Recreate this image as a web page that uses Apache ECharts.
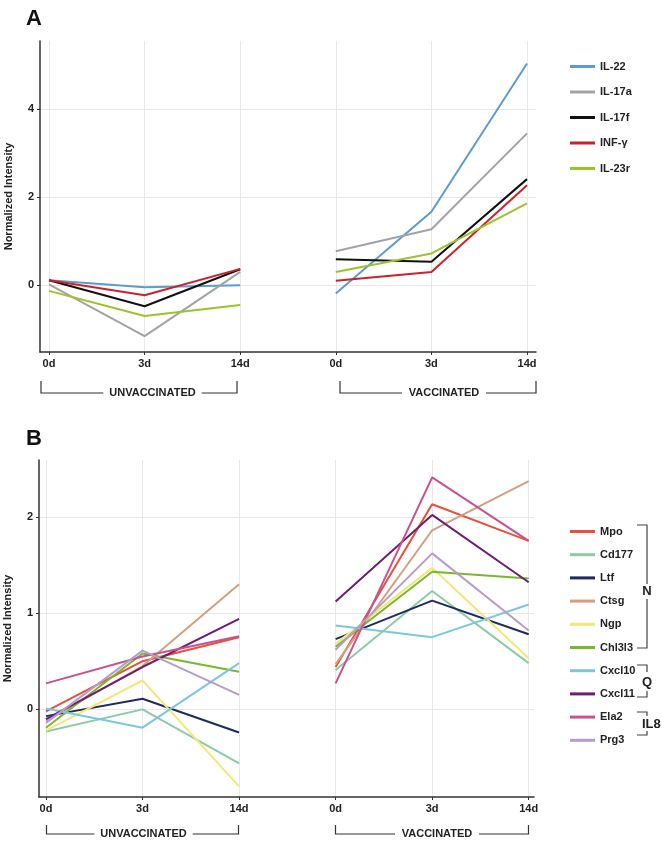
<!DOCTYPE html>
<html><head><meta charset="utf-8">
<script src="https://cdn.jsdelivr.net/npm/echarts@6/dist/echarts.min.js"></script>
<style>html,body{margin:0;padding:0;background:#fff}#c{width:662px;height:841px}</style>
</head><body><div id="c"></div>
<script>
// ---- data ----
const timepoints = ['0d','3d','14d','0d','3d','14d'];
const groupLabels = ['UNVACCINATED','VACCINATED'];
const yTicksA = [0,2,4];
const yTicksB = [0,1,2];

// Panel A (unvaccinated 0d,3d,14d, vaccinated 0d,3d,14d)
const namesA = ['IL-22','IL-17a','IL-17f','INF-\u03b3','IL-23r'];
const il22  = [0.11,-0.05,0.00,-0.19,1.67,5.04];
const il17a = [0.02,-1.16,0.30,0.77,1.27,3.45];
const il17f = [0.11,-0.48,0.36,0.59,0.53,2.41];
const infg  = [0.11,-0.23,0.37,0.10,0.30,2.27];
const il23r = [-0.13,-0.70,-0.45,0.30,0.72,1.86];

// Panel B
const namesB = ['Mpo','Cd177','Ltf','Ctsg','Ngp','Chl3l3','Cxcl10','Cxcl11','Ela2','Prg3'];
const mpo    = [-0.02,0.50,0.75,0.44,2.13,1.75];
const cd177  = [-0.23,0.00,-0.56,0.41,1.23,0.48];
const ltf    = [-0.07,0.11,-0.24,0.73,1.13,0.78];
const ctsg   = [-0.12,0.45,1.30,0.47,1.86,2.37];
const ngp    = [-0.22,0.30,-0.80,0.68,1.47,0.53];
const chl3l3 = [-0.19,0.58,0.39,0.65,1.43,1.36];
const cxcl10 = [0.01,-0.19,0.48,0.87,0.75,1.09];
const cxcl11 = [-0.10,0.44,0.94,1.12,2.02,1.32];
const ela2   = [0.27,0.55,0.76,0.27,2.41,1.75];
const prg3   = [-0.14,0.61,0.15,0.62,1.62,0.82];

const valuesA = [il22, il17a, il17f, infg, il23r];
const valuesB = [mpo, cd177, ltf, ctsg, ngp, chl3l3, cxcl10, cxcl11, ela2, prg3];
const colorsA = ['#5b9bd0','#a3a3a3','#111111','#c8232c','#9cc32a'];
const colorsB = ['#e8503a','#8dcba6','#1f2a5e','#d3a07e','#f2e87a','#79b72d','#7cc7de','#6b1f6f','#c9528c','#b89ccb'];

const FONT = '"Liberation Sans", Arial, Helvetica, sans-serif';
const chart = echarts.init(document.getElementById('c'));

function mkSeries(names, vals, colors, idx) {
  const out = [];
  names.forEach((n, i) => {
    [0, 3].forEach(start => {
      out.push({
        name: n, type: 'line', xAxisIndex: idx, yAxisIndex: idx,
        symbol: 'none', silent: true, animation: false,
        lineStyle: { color: colors[i], width: 2 },
        itemStyle: { color: colors[i] },
        data: [0,1,2].map(k => [start + k, vals[i][start + k]])
      });
    });
  });
  return out;
}

const axisLineStyle = { color: '#333', width: 1.5 };
function xAxis(idx, min, max) {
  return {
    type: 'value', gridIndex: idx, min: min, max: max,
    axisLine: { lineStyle: axisLineStyle, onZero: false },
    axisTick: { show: true, length: 3, customValues: [0,1,2,3,4,5], lineStyle: { color: '#333' } },
    axisLabel: { customValues: [0,1,2,3,4,5], formatter: v => timepoints[Math.round(v)],
      fontFamily: FONT, fontWeight: 'bold', fontSize: 11, color: '#222', margin: 6 },
    splitLine: { show: true, lineStyle: { color: '#e8e8e8', width: 1 } }
  };
}
function yAxis(idx, min, max, ticks) {
  return {
    type: 'value', gridIndex: idx, min: min, max: max,
    name: 'Normalized Intensity', nameLocation: 'middle', nameGap: 26, nameRotate: 90,
    nameMoveOverlap: false,
    nameTextStyle: { fontFamily: FONT, fontWeight: 'bold', fontSize: 11, color: '#222' },
    axisLine: { show: true, onZero: false, lineStyle: axisLineStyle },
    axisTick: { show: true, length: 3, customValues: ticks, lineStyle: { color: '#333' } },
    axisLabel: { customValues: ticks, fontFamily: FONT, fontWeight: 'bold', fontSize: 11, color: '#222', margin: 6 },
    splitLine: { show: true, lineStyle: { color: '#e8e8e8', width: 1 } }
  };
}

const legendText = { fontFamily: FONT, fontWeight: 'bold', fontSize: 11, color: '#222', lineHeight: 14 };

function bracketBottom(x1, x2, yTop, yLine, tx, label) {
  const els = [];
  const tw = label.length * 7.2;
  els.push({ type: 'polyline', shape: { points: [[x1, yTop], [x1, yLine], [tx - tw/2 - 6, yLine]] },
    style: { stroke: '#333', lineWidth: 1.2, fill: null } });
  els.push({ type: 'polyline', shape: { points: [[tx + tw/2 + 6, yLine], [x2, yLine], [x2, yTop]] },
    style: { stroke: '#333', lineWidth: 1.2, fill: null } });
  els.push({ type: 'text', x: tx, y: yLine, style: { text: label, fontFamily: FONT, fontWeight: 'bold',
    fontSize: 11, fill: '#222', align: 'center', verticalAlign: 'middle' } });
  return els;
}

const rightBr = [];
function seg(pts) { rightBr.push({ type: 'polyline', shape: { points: pts }, style: { stroke: '#444', lineWidth: 1.2, fill: null } }); }
function lbl(t, x, y, align) { rightBr.push({ type: 'text', x: x, y: y, style: { text: t, fontFamily: FONT, fontWeight: 'bold', fontSize: 13, fill: '#222', align: align || 'center', verticalAlign: 'middle' } }); }
// N
seg([[637,525],[647,525],[647,584]]); seg([[647,599],[647,648],[637,648]]); lbl('N', 647, 591.5);
// Q
seg([[637,665],[647,665],[647,672]]); seg([[647,691],[647,697],[637,697]]); lbl('Q', 647, 682);
// IL8
seg([[637,712],[647,712],[647,716]]); seg([[647,731],[647,735],[637,735]]); lbl('IL8', 642, 724, 'left');

const option = {
  animation: false,
  textStyle: { fontFamily: FONT },
  title: [
    { text: 'A', left: 21, top: 3, textStyle: { fontFamily: FONT, fontWeight: 'bold', fontSize: 22, color: '#111' } },
    { text: 'B', left: 21, top: 423, textStyle: { fontFamily: FONT, fontWeight: 'bold', fontSize: 22, color: '#111' } }
  ],
  grid: [
    { left: 40, right: 126, top: 41, bottom: 489, containLabel: false, outerBoundsMode: 'none' },
    { left: 39, right: 128, top: 460, bottom: 44, containLabel: false, outerBoundsMode: 'none' }
  ],
  xAxis: [ xAxis(0, -0.094, 5.094), xAxis(1, -0.0725, 5.055) ],
  yAxis: [ yAxis(0, -1.52, 5.55, yTicksA), yAxis(1, -0.91, 2.59, yTicksB) ],
  legend: [
    { data: namesA, orient: 'vertical', left: 570, top: 59.5, padding: 0, itemGap: 11.5,
      icon: 'rect', itemWidth: 25, itemHeight: 3, textStyle: legendText, selectedMode: false },
    { data: namesB, orient: 'vertical', left: 570, top: 524.5, padding: 0, itemGap: 9.2,
      icon: 'rect', itemWidth: 25, itemHeight: 3, textStyle: legendText, selectedMode: false }
  ],
  graphic: [].concat(
    bracketBottom(41, 237, 381, 393, 152.5, groupLabels[0]),
    bracketBottom(340, 536, 381, 393, 444, groupLabels[1]),
    bracketBottom(46.5, 238.5, 825, 834, 143.5, groupLabels[0]),
    bracketBottom(335.5, 528.5, 825, 834, 437, groupLabels[1]),
    rightBr
  ),
  series: [].concat(mkSeries(namesA, valuesA, colorsA, 0), mkSeries(namesB, valuesB, colorsB, 1))
};
chart.setOption(option);
</script>
</body></html>
